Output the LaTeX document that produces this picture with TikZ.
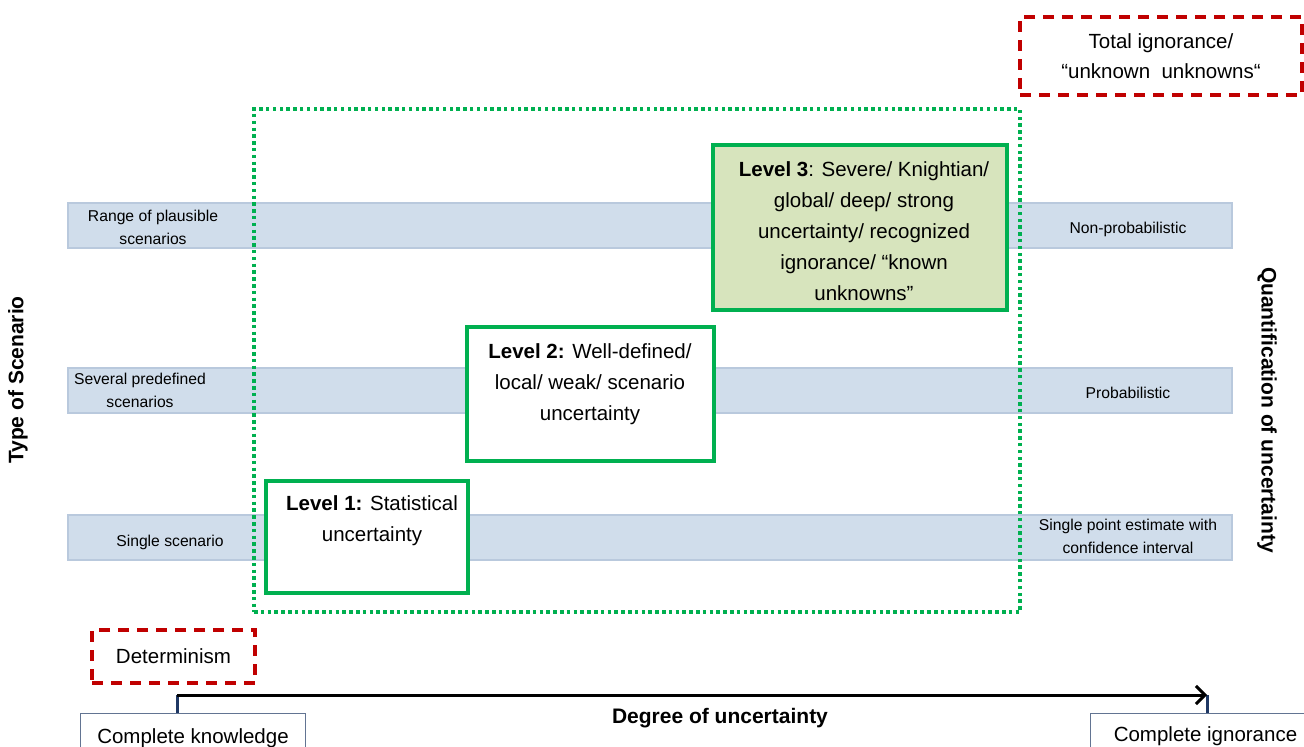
\documentclass[tikz,border=0pt]{standalone}
\usepackage{fontspec}
\setmainfont{Liberation Sans}
\usetikzlibrary{arrows.meta}
\definecolor{bandfill}{HTML}{D0DDEB}
\definecolor{bandline}{HTML}{B9C9DD}
\definecolor{lvgreen}{HTML}{00B050}
\definecolor{lvfill}{HTML}{D7E4BD}
\definecolor{dred}{HTML}{C00000}
\definecolor{dblue}{HTML}{1F3864}
\tikzset{
  band/.style={draw=bandline, fill=bandfill, line width=2pt, minimum width=1164pt, minimum height=45pt, inner sep=0pt},
  bandtxt/.style={align=center, font=\fontsize{15.7}{23}\selectfont, inner sep=0pt},
  lvbox/.style={draw=lvgreen, line width=4pt, fill=white, inner sep=0pt},
  lvtxt/.style={align=center, font=\fontsize{20.5}{31}\selectfont, inner sep=0pt},
  redbox/.style={draw=dred, line width=4pt, dash pattern=on 11pt off 8pt, inner sep=0pt},
  endbox/.style={draw=dblue!70, line width=1pt, fill=white, font=\fontsize{20.5}{24}\selectfont, inner sep=0pt, anchor=north west},
  axistxt/.style={font=\bfseries\fontsize{21}{25}\selectfont, inner sep=0pt}
}
\begin{document}
\begin{tikzpicture}[x=1pt,y=-1pt]
\useasboundingbox (0,0) rectangle (1304,747);
\clip (0,0) rectangle (1304,747);
% bands
\node[band] (b1) at (650,225.5) {};
\node[band] (b2) at (650,390.5) {};
\node[band] (b3) at (650,537.5) {};
\node[bandtxt] (b1l) at (153,227) {Range of plausible\\scenarios};
\node[bandtxt] (b2l) at (140,390) {Several predefined\\scenarios};
\node[bandtxt] (b3l) at (170,542) {Single scenario};
\node[bandtxt] (b1r) at (1128,229) {Non-probabilistic};
\node[bandtxt] (b2r) at (1128,393) {Probabilistic};
\node[bandtxt] (b3r) at (1128,536) {Single point estimate with\\confidence interval};
% dotted frame
\node[draw=lvgreen, line width=3.5pt, dash pattern=on 3.5pt off 3.3pt, minimum width=766pt, minimum height=503pt, inner sep=0pt] (frame) at (637,360.5) {};
% level boxes
\node[lvbox, minimum width=202pt, minimum height=112pt] (l1) at (367,537) {};
\node[lvtxt] (l1t) at (372,521) {\textbf{Level 1:} Statistical\\uncertainty};
\node[lvbox, minimum width=247pt, minimum height=134pt] (l2) at (590.5,394) {};
\node[lvtxt] (l2t) at (590,384) {\textbf{Level 2:} Well-defined/\\local/ weak/ scenario\\uncertainty};
\node[lvbox, fill=lvfill, minimum width=294pt, minimum height=165pt] (l3) at (860,227.5) {};
\node[lvtxt] (l3t) at (864,231) {\textbf{Level 3}: Severe/ Knightian/\\global/ deep/ strong\\uncertainty/ recognized\\ignorance/ “known\\unknowns”};
% red dashed boxes
\node[redbox, minimum width=282pt, minimum height=78pt, align=center, font=\fontsize{20.5}{30}\selectfont] (tot) at (1161,56) {Total ignorance/\\“unknown~ unknowns“};
\node[redbox, minimum width=163pt, minimum height=53pt, font=\fontsize{20.5}{24}\selectfont] (det) at (173.5,656.5) {Determinism};
% bottom axis
\node[endbox, minimum width=225pt, minimum height=50pt] (ck) at (80,713) {Complete knowledge};
\node[endbox, minimum width=230pt, minimum height=46pt] (ci) at (1090,713) {Complete ignorance};
\coordinate (ax) at (177,695);
\coordinate (bx) at (1207,695);
\draw[dblue, line width=3pt] (ax) -- (ax |- ck.north);
\draw[dblue, line width=3pt] (bx) -- (bx |- ci.north);
\draw[black, line width=3pt, -{Straight Barb[length=9pt,width=18pt]}] (ax) -- (bx);
\node[axistxt] (deg) at (720,718) {Degree of uncertainty};
\node[axistxt, rotate=90] (tos) at (18,380) {Type of Scenario};
\node[axistxt, rotate=-90] (qou) at (1267,410) {Quantification of uncertainty};
\end{tikzpicture}
\end{document}
